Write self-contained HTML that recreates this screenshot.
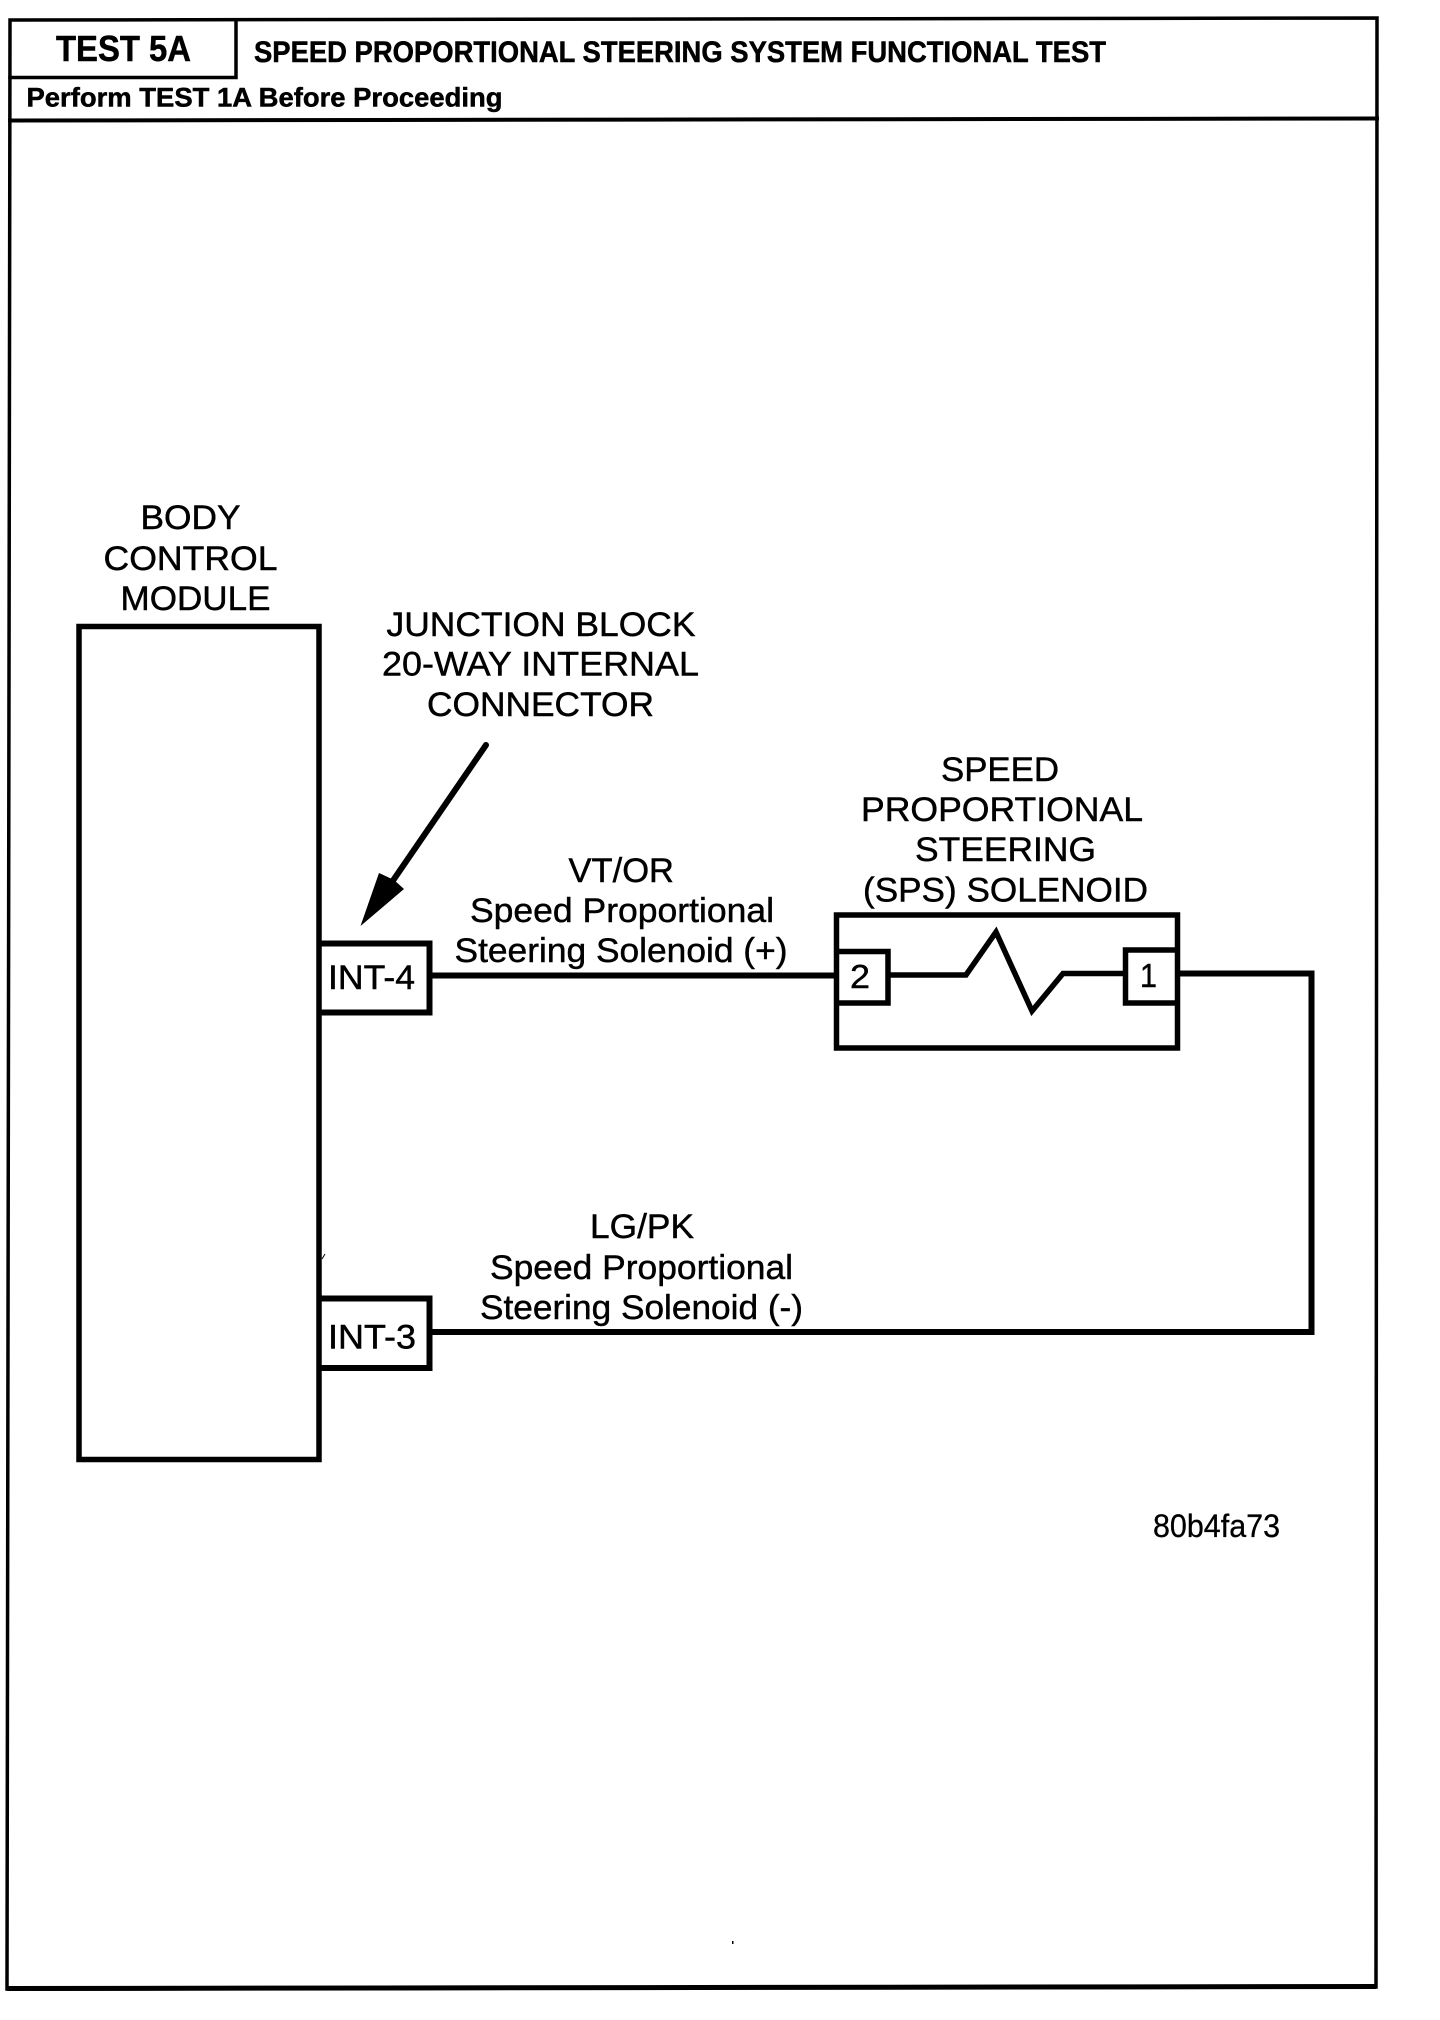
<!DOCTYPE html>
<html lang="en">
<head>
<meta charset="utf-8">
<title>TEST 5A - Speed Proportional Steering System Functional Test</title>
<style>
html,body{margin:0;padding:0;background:#fff;width:1440px;height:2020px;overflow:hidden}
svg{display:block}
text{font-family:"Liberation Sans",Arial,sans-serif;fill:#000;stroke:#000;stroke-width:.45px}
.b{font-weight:700;stroke-width:.5px}
.l{font-size:34px}
.n{font-size:33px}
</style>
</head>
<body>
<svg xmlns="http://www.w3.org/2000/svg" width="1440" height="2020" viewBox="0 0 1440 2020">
<rect width="1440" height="2020" fill="#fff"/>

<!-- page frame -->
<g fill="none" stroke="#000" stroke-width="3.5" stroke-linecap="square">
  <path d="M10 20 L1377 18 L1376 1987 L7 1989 Z"/>
  <path d="M10 120.5 L1377 118.5" stroke-width="4"/>
  <path d="M10 77.5 L236 77.5 L236 20"/>
</g>
<path d="M7 1988.5 L1376 1986.5" stroke="#000" stroke-width="5" fill="none"/>

<!-- header text -->
<text class="b" x="56" y="61" font-size="36" textLength="135" lengthAdjust="spacingAndGlyphs">TEST 5A</text>
<text class="b" x="254" y="62" font-size="29.5" textLength="852" lengthAdjust="spacingAndGlyphs">SPEED PROPORTIONAL STEERING SYSTEM FUNCTIONAL TEST</text>
<text class="b" x="26.5" y="106.5" font-size="27" textLength="476" lengthAdjust="spacingAndGlyphs">Perform TEST 1A Before Proceeding</text>

<!-- body control module -->
<rect x="79" y="626.5" width="240" height="833" fill="none" stroke="#000" stroke-width="5.5"/>
<text class="l" x="140.5" y="529" textLength="100" lengthAdjust="spacingAndGlyphs">BODY</text>
<text class="l" x="103.5" y="570" textLength="174" lengthAdjust="spacingAndGlyphs">CONTROL</text>
<text class="l" x="120.5" y="610" textLength="150" lengthAdjust="spacingAndGlyphs">MODULE</text>

<!-- junction block label and arrow -->
<text class="l" x="386.5" y="636" textLength="309" lengthAdjust="spacingAndGlyphs">JUNCTION BLOCK</text>
<text class="l" x="382" y="675.5" textLength="317" lengthAdjust="spacingAndGlyphs">20-WAY INTERNAL</text>
<text class="l" x="427" y="716" textLength="227" lengthAdjust="spacingAndGlyphs">CONNECTOR</text>
<path d="M486 745 L392 882" fill="none" stroke="#000" stroke-width="6" stroke-linecap="round"/>
<path d="M360.5 926 L379 873 L394 880 L404 889 Z" fill="#000"/>

<!-- INT-4 -->
<path d="M319 943.5 H429.5 V1012.5 H319" fill="none" stroke="#000" stroke-width="6"/>
<text class="l" x="328" y="989" textLength="87" lengthAdjust="spacingAndGlyphs">INT-4</text>

<!-- wire + -->
<path d="M432 975.5 H838" fill="none" stroke="#000" stroke-width="6"/>
<text class="l" x="568.5" y="882" textLength="105.5" lengthAdjust="spacingAndGlyphs">VT/OR</text>
<text class="l" x="470" y="922" textLength="304" lengthAdjust="spacingAndGlyphs">Speed Proportional</text>
<text class="l" x="454.5" y="962" textLength="333" lengthAdjust="spacingAndGlyphs">Steering Solenoid (+)</text>

<!-- solenoid -->
<text class="l" x="941" y="781" textLength="118" lengthAdjust="spacingAndGlyphs">SPEED</text>
<text class="l" x="861" y="821" textLength="282" lengthAdjust="spacingAndGlyphs">PROPORTIONAL</text>
<text class="l" x="915" y="861" textLength="181" lengthAdjust="spacingAndGlyphs">STEERING</text>
<text class="l" x="863" y="901.5" textLength="285" lengthAdjust="spacingAndGlyphs">(SPS) SOLENOID</text>
<rect x="836.5" y="915" width="341" height="133" fill="none" stroke="#000" stroke-width="5.5"/>
<path d="M836 951.5 H888 V1003 H836" fill="none" stroke="#000" stroke-width="5.5"/>
<path d="M1178 950 H1125.5 V1003 H1178" fill="none" stroke="#000" stroke-width="5.5"/>
<path d="M890 975 H966 L996 932 L1032 1011 L1063 973.5 H1124" fill="none" stroke="#000" stroke-width="5.5" stroke-linejoin="miter"/>
<text class="n" x="850" y="988" textLength="20" lengthAdjust="spacingAndGlyphs">2</text>
<text class="n" x="1140" y="987" textLength="17" lengthAdjust="spacingAndGlyphs">1</text>

<!-- return wire -->
<path d="M1179 973.5 H1311.5 V1332 H431" fill="none" stroke="#000" stroke-width="6" stroke-linejoin="miter"/>

<!-- INT-3 -->
<path d="M319 1298.5 H429.5 V1368 H319" fill="none" stroke="#000" stroke-width="6"/>
<text class="l" x="328" y="1348.5" textLength="88" lengthAdjust="spacingAndGlyphs">INT-3</text>
<text class="l" x="590" y="1238" textLength="104" lengthAdjust="spacingAndGlyphs">LG/PK</text>
<text class="l" x="490" y="1279" textLength="303" lengthAdjust="spacingAndGlyphs">Speed Proportional</text>
<text class="l" x="480" y="1319" textLength="323" lengthAdjust="spacingAndGlyphs">Steering Solenoid (-)</text>

<!-- figure id -->
<text class="n" x="1153" y="1537" textLength="127" lengthAdjust="spacingAndGlyphs" style="font-size:32px;stroke-width:.3px">80b4fa73</text>

<!-- scan specks -->
<path d="M322 1259 L325 1254" stroke="#000" stroke-width="1" fill="none"/>
<rect x="732" y="1941" width="1.5" height="3" fill="#000"/>
</svg>
</body>
</html>
